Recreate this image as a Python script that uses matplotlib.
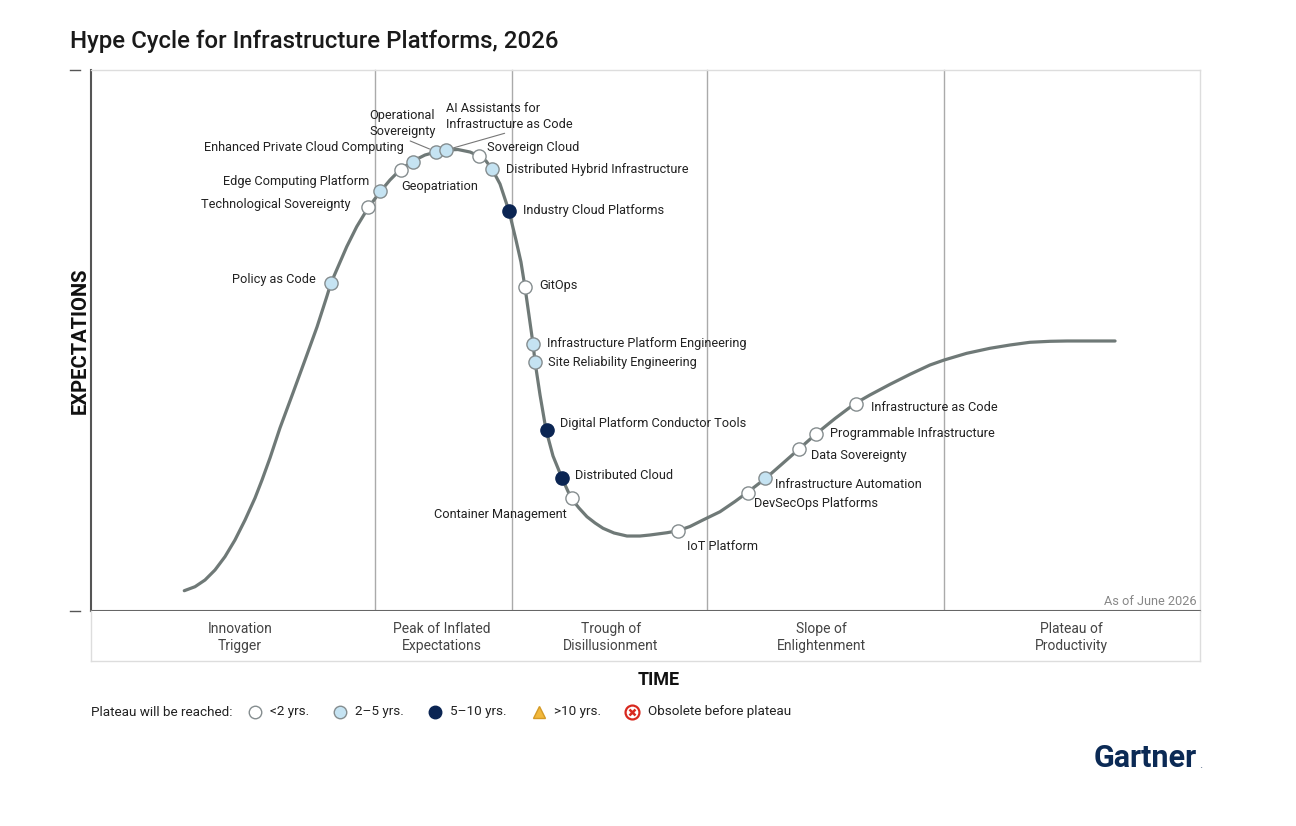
import matplotlib
matplotlib.use('Agg')
import matplotlib.pyplot as plt
from matplotlib.lines import Line2D

plt.rcParams['font.family'] = ['Roboto', 'DejaVu Sans']

# hype curve (time 0-100, expectations 0-100)
curve_x = [8.41, 9.38, 10.28, 11.18, 12.08, 12.98, 13.89, 14.79, 15.42, 16.14,
           17.04, 18.21, 19.30, 20.38, 21.28, 21.64, 23.06, 23.96, 24.98, 26.06,
           26.96, 27.86, 29.04, 30.12, 31.11, 32.01, 33.09, 34.18, 34.99, 35.62,
           36.16, 36.88, 37.69, 38.32, 38.77, 39.13, 39.49, 39.86, 40.04, 40.49,
           41.03, 41.66, 42.47, 43.28, 44.00, 44.72, 45.45, 46.17, 47.16, 48.33,
           49.50, 50.41, 51.94, 52.93, 54.01, 55.18, 56.72, 58.07, 59.24, 60.87,
           62.31, 63.84, 65.37, 67.09, 68.89, 70.24, 72.05, 73.85, 75.65, 76.94,
           78.96, 81.06, 82.87, 84.67, 86.47, 88.01, 92.34]
curve_y = [3.75, 4.49, 5.73, 7.58, 10.04, 13.12, 16.82, 20.89, 24.21, 28.28,
           33.83, 40.30, 46.40, 52.50, 58.23, 60.63, 67.34, 71.04, 74.49, 77.45,
           79.67, 81.52, 83.18, 84.29, 84.84, 85.21, 85.30, 84.84, 84.10, 83.18,
           81.70, 78.93, 73.94, 68.58, 64.51, 59.89, 54.71, 49.35, 46.03, 39.93,
           33.46, 28.65, 24.58, 20.89, 19.04, 17.43, 16.27, 15.29, 14.42, 13.86,
           13.86, 14.05, 14.47, 14.84, 15.62, 16.82, 18.35, 20.24, 22.00, 24.58,
           27.17, 29.94, 32.72, 35.58, 38.35, 39.93, 41.90, 43.75, 45.47, 46.40,
           47.63, 48.56, 49.17, 49.67, 49.85, 49.91, 49.91]

tech_names = ['Policy as Code', 'Technological Sovereignty', 'Edge Computing Platform',
              'Geopatriation', 'Enhanced Private Cloud Computing', 'Operational\nSovereignty',
              'AI Assistants for\nInfrastructure as Code', 'Sovereign Cloud',
              'Distributed Hybrid Infrastructure', 'Industry Cloud Platforms', 'GitOps',
              'Infrastructure Platform Engineering', 'Site Reliability Engineering',
              'Digital Platform Conductor Tools', 'Distributed Cloud', 'Container Management',
              'IoT Platform', 'DevSecOps Platforms', 'Infrastructure Automation',
              'Data Sovereignty', 'Programmable Infrastructure', 'Infrastructure as Code']
tech_x = [21.64, 24.98, 26.06, 27.93, 29.01, 31.11, 32.01, 34.96, 36.13, 37.69, 39.13,
          39.83, 40.04, 41.09, 42.44, 43.34, 52.93, 59.20, 60.82, 63.84, 65.37, 68.94]
tech_y = [60.63, 74.68, 77.63, 81.52, 83.05, 84.90, 85.21, 84.16, 81.65, 73.99, 59.89,
          49.35, 46.03, 33.46, 24.58, 20.89, 14.84, 21.90, 24.58, 29.94, 32.72, 38.35]
tech_years = ['2-5', '<2', '2-5', '<2', '2-5', '2-5', '2-5', '<2', '2-5', '5-10', '<2',
              '2-5', '2-5', '5-10', '5-10', '<2', '<2', '<2', '2-5', '<2', '<2', '<2']

phase_names = ['Innovation\nTrigger', 'Peak of Inflated\nExpectations', 'Trough of\nDisillusionment',
               'Slope of\nEnlightenment', 'Plateau of\nProductivity']
phase_bounds = [25.61, 37.96, 55.55, 76.92]
phase_centers = [13.44, 31.65, 46.89, 65.83, 88.37]

# label placement (offset in pixels, alignment)
label_dx = [-15, -18, -11, 1, -9, -67, 0, 8, 14, 14, 14, 14, 13, 13, 13, -5, 9, 6, 10, 12, 14, 15]
label_dy = [3, 2, 10, -17, 14, 28, 34, 8, 0, 0, 1, 1, -1, 6, 3, -17, -16, -11, -6, -6, 0, -4]
label_ha = ['right', 'right', 'right', 'left', 'right', 'left', 'left', 'left', 'left', 'left',
            'left', 'left', 'left', 'left', 'left', 'right', 'left', 'left', 'left', 'left',
            'left', 'left']

fills = {'<2': 'white', '2-5': '#c5e3f2', '5-10': '#0b2553'}
edges = {'<2': '#858d8f', '2-5': '#858d8f', '5-10': '#0b2553'}

fig = plt.figure(figsize=(12.96, 8.26), dpi=100)
ax = fig.add_axes([91/1296, 215/826, 1109/1296, 541/826])
ax.set_xlim(0, 100)
ax.set_ylim(0, 100)
ax.set_xticks([])
ax.set_yticks([])
for s in ['top', 'right']:
    ax.spines[s].set_color('#dddddd')
    ax.spines[s].set_linewidth(1)
ax.spines['left'].set_color('#555555')
ax.spines['left'].set_linewidth(1.5)
ax.spines['bottom'].set_color('#666666')
ax.spines['bottom'].set_linewidth(1.5)

for b in phase_bounds:
    ax.axvline(b, ymin=-0.011, ymax=1, color='#aaaaaa', lw=1, clip_on=False, zorder=1)

ax.plot(curve_x, curve_y, color='#6f7977', lw=2.3, zorder=2, solid_capstyle='round',
        solid_joinstyle='round')

for i, name in enumerate(tech_names):
    yrs = tech_years[i]
    ax.plot(tech_x[i], tech_y[i], 'o', ms=9.5, mfc=fills[yrs], mec=edges[yrs], mew=1, zorder=4)
    arrow = None
    if i == 5:
        arrow = dict(arrowstyle='-', color='#777777', lw=0.8, shrinkA=0, shrinkB=5, relpos=(0.52, 0))
    if i == 6:
        arrow = dict(arrowstyle='-', color='#777777', lw=0.8, shrinkA=0, shrinkB=5, relpos=(0.54, 0))
    ax.annotate(name, (tech_x[i], tech_y[i]), xytext=(label_dx[i], label_dy[i]),
                textcoords='offset pixels', ha=label_ha[i], va='center', fontsize=9.2,
                color='#222222', linespacing=1.3, arrowprops=arrow, zorder=3)

ax.text(99.7, 1.8, 'As of June 2026', ha='right', va='center', fontsize=9.2, color='#888888')
ax.set_ylabel('EXPECTATIONS', fontsize=14.5, fontweight='bold', color='#111111', labelpad=1)

# small marks left of the axis
for yy in [0, 100]:
    ax.add_line(Line2D([-0.019, -0.010], [yy / 100, yy / 100], transform=ax.transAxes,
                       color='#555555', lw=1, clip_on=False))

# phase band
band = fig.add_axes([91/1296, 165/826, 1109/1296, 50/826])
band.set_xlim(0, 100)
band.set_ylim(0, 1)
band.set_xticks([])
band.set_yticks([])
for s in band.spines.values():
    s.set_color('#dddddd')
    s.set_linewidth(1)
band.spines['top'].set_visible(False)
for i, p in enumerate(phase_names):
    band.text(phase_centers[i], 0.47, p, ha='center', va='center', fontsize=10,
              color='#444444', linespacing=1.3)

fig.text(659/1296, 1 - 680/826, 'TIME', ha='center', va='center', fontsize=13,
         fontweight='bold', color='#111111')

fig.text(70/1296, 1 - 41/826, 'Hype Cycle for Infrastructure Platforms, 2026', ha='left',
         va='center', fontsize=17.3, fontweight='medium', color='#1a1a1a')

# legend row
ly = 1 - 712/826
fig.text(91/1296, ly, 'Plateau will be reached:', ha='left', va='center', fontsize=9.7, color='#222222')
leg_items = [(255, 'o', 'white', '#858d8f', '<2 yrs.'),
             (340, 'o', '#c5e3f2', '#858d8f', '2\u20135 yrs.'),
             (435, 'o', '#0b2553', '#0b2553', '5\u201310 yrs.'),
             (539, '^', '#f2b83b', '#d49a26', '>10 yrs.')]
for px, m, fc, ec, lab in leg_items:
    fig.add_artist(Line2D([px/1296], [ly], marker=m, ms=9, mfc=fc, mec=ec, mew=1,
                          transform=fig.transFigure, linestyle='none'))
    fig.text((px + 15)/1296, ly, lab, ha='left', va='center', fontsize=9.7, color='#222222')
fig.add_artist(Line2D([632/1296], [ly], marker='o', ms=10, mfc='white', mec='#d8281e', mew=1.6,
                      transform=fig.transFigure, linestyle='none'))
fig.add_artist(Line2D([632/1296], [ly], marker='x', ms=5, mec='#d8281e', mew=1.8,
                      transform=fig.transFigure, linestyle='none'))
fig.text(648/1296, ly, 'Obsolete before plateau', ha='left', va='center', fontsize=9.7, color='#222222')

fig.text(1197/1296, 1 - 758/826, 'Gartner', ha='right', va='center', fontsize=22,
         fontweight='bold', color='#0b2a55')
fig.text(1202/1296, 1 - 765/826, '.', ha='right', va='center', fontsize=9, color='#6d7f99')

fig.savefig('out.png', dpi=100)
